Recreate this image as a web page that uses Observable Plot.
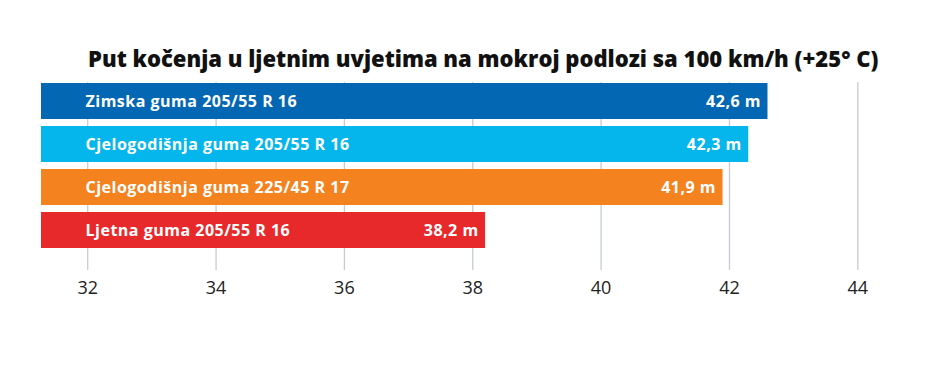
<!DOCTYPE html>
<html>
<head>
<meta charset="utf-8">
<script src="https://cdn.jsdelivr.net/npm/d3@7"></script>
<script src="https://cdn.jsdelivr.net/npm/@observablehq/plot@0.6"></script>
<style>
  html, body { margin: 0; padding: 0; background: #fff; }
  #title {
    height: 72px; box-sizing: border-box; padding-top: 45px; padding-left: 88px;
    font-family: "Open Sans", sans-serif; font-weight: 800; font-size: 22px; line-height: 26px;
    color: #111; white-space: nowrap; letter-spacing: 0;
  }
  #chart .lbl text { letter-spacing: 0.5px; }
</style>
</head>
<body>
<div id="title">Put kočenja u ljetnim uvjetima na mokroj podlozi sa 100 km/h (+25° C)</div>
<div id="chart"></div>
<script>
const tyres = [
  "Zimska guma 205/55 R 16",
  "Cjelogodišnja guma 205/55 R 16",
  "Cjelogodišnja guma 225/45 R 17",
  "Ljetna guma 205/55 R 16"
];
const distances = [42.6, 42.3, 41.9, 38.2];
const xTicks = [32, 34, 36, 38, 40, 42, 44];

const data = tyres.map((t, i) => ({tyre: t, value: distances[i]}));
const fmt = v => v.toFixed(1).replace(".", ",") + " m";
const base = 31.28;

const chart = Plot.plot({
  width: 925,
  height: 299,
  marginLeft: 41,
  marginRight: 42,
  marginTop: 10,
  marginBottom: 101,
  style: {fontFamily: "'Open Sans', sans-serif", background: "#fff"},
  x: {domain: [base, 44.4], ticks: xTicks, grid: false, label: null},
  y: {domain: tyres, range: [10, 176.3], paddingInner: 0.16, paddingOuter: 0, axis: null},
  color: {domain: tyres, range: ["#0467b4", "#04b6ec", "#f4821f", "#e8292b"]},
  marks: [
    Plot.gridX(xTicks, {stroke: "#c3ccd4", strokeOpacity: 1, strokeWidth: 1.3}),
    Plot.barX(data, {x1: () => base, x2: "value", y: "tyre", fill: "tyre"}),
    Plot.text(data, {x: () => base, y: "tyre", text: "tyre", textAnchor: "start", dx: 44,
      fill: "white", fontWeight: 700, fontSize: 16, className: "lbl"}),
    Plot.text(data, {x: "value", y: "tyre", text: d => fmt(d.value), textAnchor: "end", dx: -7,
      fill: "white", fontWeight: 700, fontSize: 16, className: "lbl"}),
    Plot.axisX(xTicks, {tickSize: 0, tickPadding: 11, fontSize: 18, fill: "#222", fontWeight: 400, label: null, tickFormat: d => String(d)})
  ]
});
document.getElementById("chart").appendChild(chart);
</script>
</body>
</html>
